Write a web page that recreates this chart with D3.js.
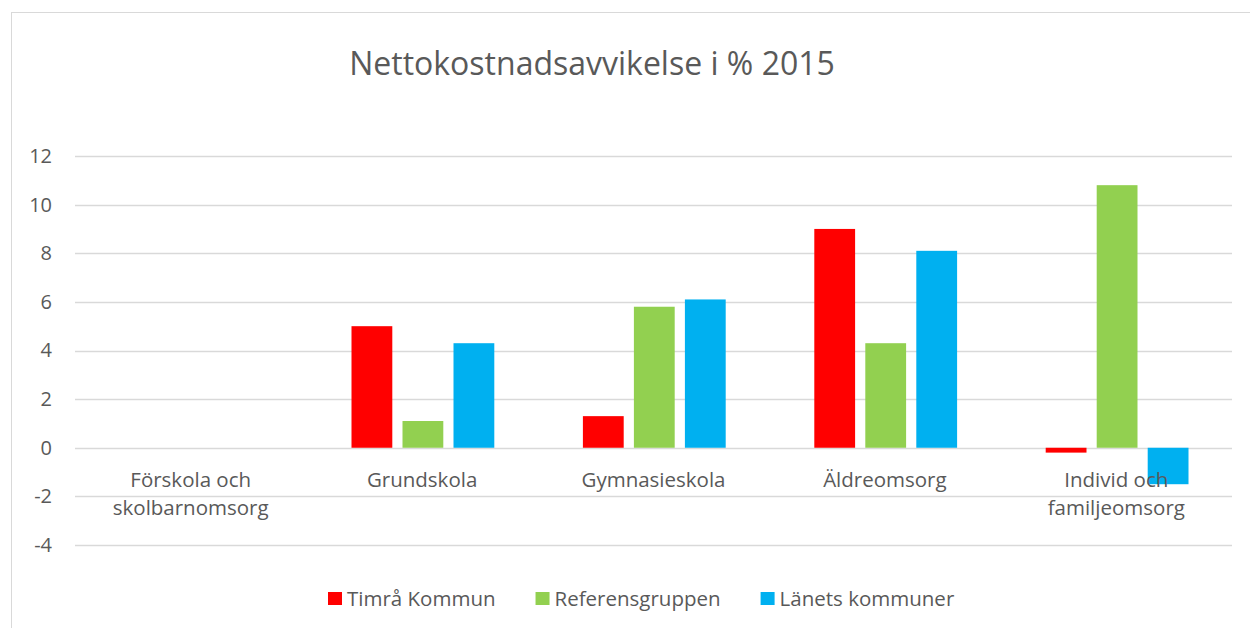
<!DOCTYPE html>
<html>
<head>
<meta charset="utf-8">
<script src="https://cdn.jsdelivr.net/npm/d3@7"></script>
<style>
  body { margin: 0; background: #fff; }
  text { font-family: "Open Sans", sans-serif; fill: #595959; }
</style>
</head>
<body>
<script>
// data
var categories = ["Förskola och\nskolbarnomsorg", "Grundskola", "Gymnasieskola", "Äldreomsorg", "Individ och\nfamiljeomsorg"];
var seriesNames = ["Timrå Kommun", "Referensgruppen", "Länets kommuner"];
var timra = [null, 5.0, 1.3, 9.0, -0.2];
var referens = [null, 1.1, 5.8, 4.3, 10.8];
var lanets = [null, 4.3, 6.1, 8.1, -1.5];
var yTicks = [-4, -2, 0, 2, 4, 6, 8, 10, 12];
var colors = ["#ff0000", "#92d050", "#00b0f0"];

var width = 1250, height = 628;
var plotLeft = 75, plotRight = 1232, plotTop = 156, plotBottom = 545;

var svg = d3.select('body').append('svg').attr('width', width).attr('height', height);

// outer frame
svg.append('rect').attr('x', 11.5).attr('y', 12.5).attr('width', 1250).attr('height', 640)
    .attr('fill', 'none').attr('stroke', '#d9d9d9').attr('stroke-width', 1);

svg.append('text').attr('x', 592).attr('y', 75).attr('text-anchor', 'middle')
    .style('font-size', '32px').text('Nettokostnadsavvikelse i % 2015');

var y = d3.scaleLinear().domain([-4, 12]).range([plotBottom, plotTop]);
var x0 = d3.scaleBand().domain(d3.range(categories.length)).range([plotLeft, plotRight]);
// bars ~41px wide with ~10px gaps inside each category band
var x1 = d3.scaleBand().domain(d3.range(seriesNames.length)).range([40, 40 + 153]).paddingInner(0.2).paddingOuter(0.1);

// gridlines
svg.append('g').selectAll('line').data(yTicks).enter().append('line')
    .attr('x1', plotLeft).attr('x2', plotRight)
    .attr('y1', function (d) { return Math.round(y(d)) + 0.5; })
    .attr('y2', function (d) { return Math.round(y(d)) + 0.5; })
    .attr('stroke', '#d9d9d9').attr('stroke-width', 1.3);

// y labels (plain hyphen for negatives, like the original)
var yAxis = d3.axisLeft(y).tickValues(yTicks).tickSize(0).tickPadding(0)
    .tickFormat(function (d) { return String(d); });
var ya = svg.append('g').attr('transform', 'translate(52,0)').call(yAxis);
ya.select('.domain').remove();
ya.selectAll('text').style('font-size', '20px').attr('fill', '#595959')
    .style('font-family', '"Open Sans", sans-serif');

// bars
var series = [timra, referens, lanets];
series.forEach(function (vals, s) {
    var pts = vals.map(function (v, i) { return { i: i, v: v }; }).filter(function (d) { return d.v !== null; });
    svg.append('g').selectAll('rect').data(pts).enter().append('rect')
        .attr('x', function (d) { return x0(d.i) + x1(s); })
        .attr('y', function (d) { return y(Math.max(0, d.v)); })
        .attr('width', x1.bandwidth())
        .attr('height', function (d) { return Math.abs(y(d.v) - y(0)); })
        .attr('fill', colors[s]);
});

// category labels
var cat = svg.append('g');
categories.forEach(function (c, i) {
    var cx = x0(i) + x0.bandwidth() / 2;
    var t = cat.append('text').attr('text-anchor', 'middle').style('font-size', '20.5px')
        .attr('x', cx).attr('y', 487);
    c.split('\n').forEach(function (line, k) {
        t.append('tspan').attr('x', cx).attr('dy', k === 0 ? 0 : 28).text(line);
    });
});

// legend, laid out left to right
var lg = svg.append('g');
var lx = 328;
seriesNames.forEach(function (n, i) {
    lg.append('rect').attr('x', lx).attr('y', 592).attr('width', 14).attr('height', 13).attr('fill', colors[i]);
    var t = lg.append('text').attr('x', lx + 19).attr('y', 606).style('font-size', '20.5px').text(n);
    lx = lx + 19 + t.node().getComputedTextLength() + 40;
});
</script>
</body>
</html>
